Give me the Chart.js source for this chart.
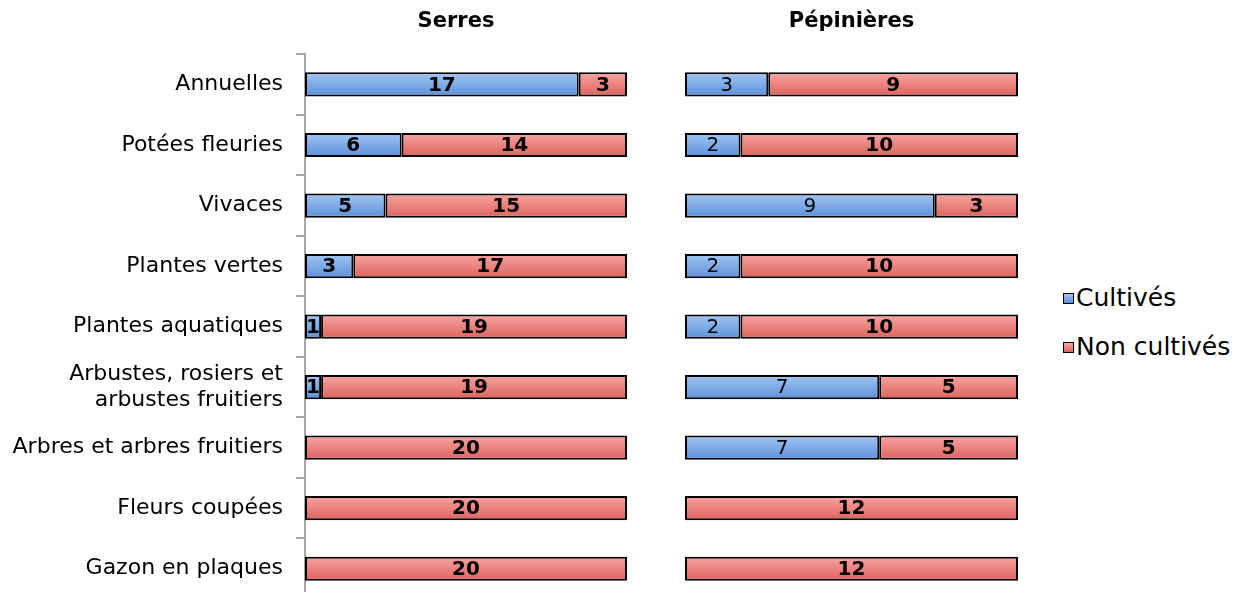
<!DOCTYPE html>
<html>
<head>
<meta charset="utf-8">
<script src="https://cdn.jsdelivr.net/npm/chart.js@4"></script>
<style>
  html, body { margin: 0; padding: 0; background: #fff; overflow: hidden; }
  body { width: 1238px; height: 592px; position: relative; font-family: "DejaVu Sans", sans-serif; }
  .panel { position: absolute; top: 0; height: 599px; }
  #leftBox { left: 0; width: 632px; }
  #rightBox { left: 670px; width: 360px; }
  #legend { position: absolute; left: 1063px; top: 283px; font-size: 25px; color: #000; }
  #legend div { height: 49px; display: flex; align-items: flex-start; }
  #legend span.sw { display: inline-block; width: 9px; height: 9px; border: 1.5px solid #000; margin-right: 2px; margin-top: 10px; }
</style>
</head>
<body>
<div class="panel" id="leftBox"><canvas id="serresChart"></canvas></div>
<div class="panel" id="rightBox"><canvas id="pepChart"></canvas></div>
<div id="legend">
  <div><span class="sw" style="background: linear-gradient(#a3c6f5, #5b90d8);"></span>Cultivés</div>
  <div><span class="sw" style="background: linear-gradient(#f9a5a3, #dc625c);"></span>Non cultivés</div>
</div>
<script>
const categories = [
    'Annuelles',
    'Potées fleuries',
    'Vivaces',
    'Plantes vertes',
    'Plantes aquatiques',
    ['Arbustes, rosiers et', 'arbustes fruitiers'],
    'Arbres et arbres fruitiers',
    'Fleurs coupées',
    'Gazon en plaques'
];
const serresCultives = [17, 6, 5, 3, 1, 1, 0, 0, 0];
const serresNonCultives = [3, 14, 15, 17, 19, 19, 20, 20, 20];
const pepCultives = [3, 2, 9, 2, 2, 7, 7, 0, 0];
const pepNonCultives = [9, 10, 3, 10, 10, 5, 5, 12, 12];

const FONT = '"DejaVu Sans", sans-serif';
const BLUE = ['#a3c6f5', '#5b90d8'];
const RED = ['#f9a5a3', '#dc625c'];

// vertical gradient for each bar, computed from the category scale
function barGradient(colors) {
    return function (ctx) {
        const chart = ctx.chart;
        const yScale = chart.scales.y;
        if (!yScale || ctx.dataIndex === undefined) return colors[1];
        const yc = yScale.getPixelForValue(ctx.dataIndex);
        const h = (yScale.height / categories.length) * 0.4;
        if (!isFinite(yc) || !isFinite(h) || h <= 0) return colors[1];
        const g = chart.ctx.createLinearGradient(0, yc - h / 2, 0, yc + h / 2);
        g.addColorStop(0, colors[0]);
        g.addColorStop(1, colors[1]);
        return g;
    };
}

// draws the value inside each segment
const valueLabels = {
    id: 'valueLabels',
    afterLayout(chart, args, opts) {
        // nudge the title sideways if asked
        if (opts.titleShift && chart.titleBlock) {
            chart.titleBlock.left += opts.titleShift;
            chart.titleBlock.right += opts.titleShift;
        }
    },
    afterDatasetsDraw(chart, args, opts) {
        const ctx = chart.ctx;
        ctx.save();
        ctx.textAlign = 'center';
        ctx.textBaseline = 'middle';
        ctx.fillStyle = '#000';
        chart.data.datasets.forEach((ds, di) => {
            const meta = chart.getDatasetMeta(di);
            const weight = opts.bold[di] ? 'bold ' : '';
            ctx.font = weight + '20px ' + FONT;
            meta.data.forEach((bar, i) => {
                const v = ds.data[i];
                if (!v) return;
                ctx.fillText(String(v), (bar.x + bar.base) / 2, bar.y + 1);
            });
        });
        ctx.restore();
    }
};

function makeChart(id, title, cult, nonCult, max, withAxis, boldLabels, padding, titleShift) {
    return new Chart(document.getElementById(id), {
        type: 'bar',
        data: {
            labels: categories,
            datasets: [
                { label: 'Cultivés', data: cult, backgroundColor: barGradient(BLUE) },
                { label: 'Non cultivés', data: nonCult, backgroundColor: barGradient(RED) }
            ]
        },
        options: {
            indexAxis: 'y',
            responsive: true,
            maintainAspectRatio: false,
            animation: false,
            layout: { padding: padding },
            datasets: {
                bar: {
                    borderColor: '#000',
                    borderWidth: 2,
                    borderSkipped: false,
                    categoryPercentage: 0.4,
                    barPercentage: 1
                }
            },
            scales: {
                x: { stacked: true, min: 0, max: max, display: false },
                y: {
                    stacked: true,
                    display: withAxis,
                    afterFit(scale) {
                        if (!withAxis) return;
                        scale.width = 305;
                        // labels may overflow the ends, keep the full height anyway
                        scale.paddingTop = 0;
                        scale.paddingBottom = 0;
                    },
                    border: { display: true, color: '#a6a6a6', width: 2 },
                    grid: { display: true, drawOnChartArea: false, offset: true, tickLength: 9, color: '#a6a6a6', lineWidth: 2 },
                    ticks: { color: '#000', font: { family: FONT, size: 22 }, padding: 13 }
                }
            },
            plugins: {
                legend: { display: false },
                tooltip: { enabled: false },
                title: {
                    display: true,
                    text: title,
                    fullSize: false,
                    color: '#000',
                    font: { family: FONT, size: 21, weight: 'bold' },
                    padding: { top: 9, bottom: 20 }
                },
                valueLabels: { bold: boldLabels, titleShift: titleShift }
            }
        },
        plugins: [valueLabels]
    });
}

makeChart('serresChart', 'Serres', serresCultives, serresNonCultives, 20, true, [true, true], { left: 0, right: 5, top: 0, bottom: 0 }, -10);
makeChart('pepChart', 'Pépinières', pepCultives, pepNonCultives, 12, false, [false, true], { left: 15, right: 12, top: 0, bottom: 0 }, 0);
</script>
</body>
</html>
